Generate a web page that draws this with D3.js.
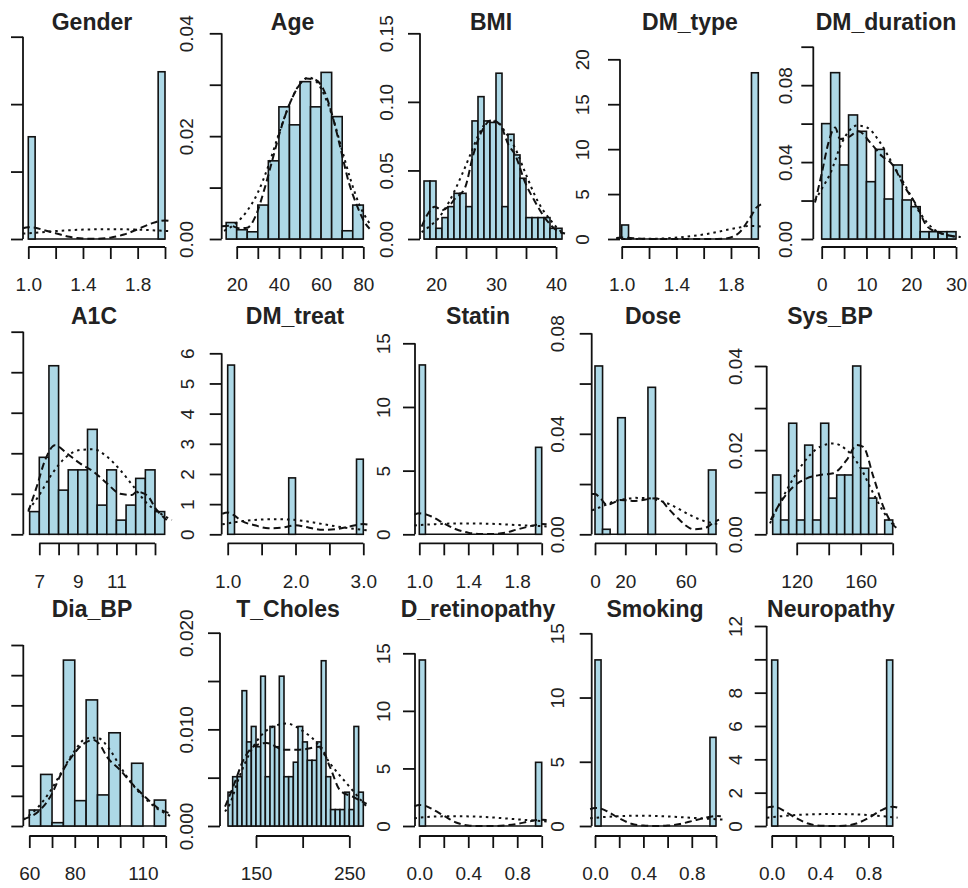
<!DOCTYPE html>
<html>
<head>
<meta charset="utf-8">
<script src="https://cdn.jsdelivr.net/npm/d3@7"></script>
<style>
  body { margin: 0; background: #fff; }
  svg text { font-family: "Liberation Sans", Arial, sans-serif; fill: #222; }
  .title { font-weight: bold; font-size: 23px; }
</style>
</head>
<body>
<div id="chart"></div>
<script>
// ---- shared tick values / labels ----
const ticks12 = [1, 1.2, 1.4, 1.6, 1.8, 2];
const labels12 = ['1.0', '', '1.4', '', '1.8', ''];
const ticks01 = [0, 0.2, 0.4, 0.6, 0.8, 1];
const labels01 = ['0.0', '', '0.4', '', '0.8', ''];
const count15Ticks = [0, 5, 10, 15];
const count15Labels = ['0', '5', '10', '15'];
// first-column panels: their y labels fall outside the picture, so none are shown
const hiddenLabels = ['', '', '', '', '', '', ''];

// ---- Gender ----
const genderBreaks = [1.0, 1.05, 1.95, 2.0];
const genderDens = [7.58, 0, 12.4];
const genderKde = [[0.96,0.8],[1.0,0.88],[1.05,0.84],[1.11,0.67],[1.2,0.43],[1.3,0.16],[1.4,0.03],[1.5,0.01],[1.6,0.1],[1.7,0.33],[1.8,0.72],[1.9,1.15],[2.0,1.38],[2.04,1.33]];
const genderNorm = [[0.96,0.4],[1.05,0.46],[1.15,0.55],[1.3,0.65],[1.45,0.71],[1.6,0.73],[1.75,0.71],[1.9,0.65],[2.04,0.58]];

// ---- Age ----
const ageBreaks = [15, 20, 25, 30, 35, 40, 45, 50, 55, 60, 65, 70, 75, 80];
const ageDens = [0.0032, 0.0018, 0.0014, 0.0066, 0.0152, 0.0257, 0.0222, 0.0306, 0.0257, 0.0324, 0.0238, 0.0016, 0.0066];
const ageKde = [[13,0.0025],[17,0.0026],[21,0.0021],[25,0.0022],[29,0.0045],[33,0.0095],[37,0.0155],[41,0.0215],[45,0.0262],[49,0.0295],[53,0.0312],[57,0.031],[61,0.0292],[65,0.0245],[69,0.018],[73,0.0112],[77,0.0065],[81,0.003],[83,0.002]];
const ageNorm = [[14,0.0016],[20,0.0032],[25,0.0055],[30,0.009],[35,0.0142],[40,0.0205],[45,0.0262],[50,0.0302],[54,0.0314],[58,0.0305],[62,0.0275],[66,0.023],[70,0.0172],[74,0.0115],[78,0.0068],[83,0.003]];
const ageXTicks = [20, 30, 40, 50, 60, 70, 80];
const ageXLabels = ['20', '', '40', '', '60', '', '80'];
const ageYTicks = [0, 0.01, 0.02, 0.03, 0.04];
const ageYLabels = ['0.00', '', '0.02', '', '0.04'];

// ---- BMI ----
const bmiBreaks = [18, 19, 20, 21, 22, 23, 24, 25, 26, 27, 28, 29, 30, 31, 32, 33, 34, 35, 36, 37, 38, 39, 40, 41];
const bmiDens = [0.0423, 0.0423, 0.0078, 0.0156, 0.0236, 0.0333, 0.0333, 0.0236, 0.0861, 0.1038, 0.0861, 0.085, 0.1209, 0.0236, 0.0764, 0.0613, 0.0443, 0.0156, 0.0156, 0.0156, 0.0156, 0.0078, 0.0078];
const bmiKde = [[17.6,0.009],[18.6,0.018],[19.8,0.0236],[21,0.021],[22.1,0.0236],[23.2,0.0297],[24.8,0.037],[26.2,0.0613],[27.6,0.0783],[29.3,0.0868],[30.7,0.0832],[32.1,0.0686],[33.2,0.0613],[34.8,0.0418],[36.5,0.0272],[38.2,0.0151],[40.4,0.0055],[41.5,0.004]];
const bmiNorm = [[17.6,0.005],[19,0.0095],[20.4,0.0151],[22.1,0.0265],[24.3,0.0467],[25.7,0.0613],[27.1,0.0759],[28.7,0.0856],[30.1,0.0856],[31.5,0.0783],[33.2,0.0662],[34.8,0.0491],[37,0.0272],[39.3,0.0126],[40.9,0.0053],[41.5,0.004]];
const bmiXTicks = [20, 25, 30, 35, 40];
const bmiXLabels = ['20', '', '30', '', '40'];
const bmiYTicks = [0, 0.05, 0.10, 0.15];
const bmiYLabels = ['0.00', '0.05', '0.10', '0.15'];

// ---- DM_type ----
const dmTypeBreaks = [1.0, 1.05, 1.95, 2.0];
const dmTypeDens = [1.56, 0, 18.5];
const dmTypeKde = [[0.96,0.12],[1.0,0.17],[1.05,0.14],[1.12,0.05],[1.2,0.01],[1.3,0],[1.7,0],[1.76,0.05],[1.82,0.3],[1.87,0.85],[1.91,1.7],[1.95,2.6],[1.98,3.4],[2.02,3.85]];
const dmTypeNorm = [[0.96,0],[1.2,0.02],[1.3,0.06],[1.43,0.19],[1.55,0.4],[1.65,0.63],[1.75,0.95],[1.87,1.3],[1.93,1.45],[2.0,1.42],[2.04,1.38]];
const dmTypeYTicks = [0, 5, 10, 15, 20];
const dmTypeYLabels = ['0', '5', '10', '15', '20'];

// ---- DM_duration ----
const dmDurBreaks = [0, 2, 4, 6, 8, 10, 12, 14, 16, 18, 20, 22, 24, 26, 28, 30];
const dmDurDens = [0.060, 0.0865, 0.0385, 0.0645, 0.056, 0.0298, 0.0466, 0.0208, 0.0385, 0.0203, 0.0168, 0.0038, 0.0038, 0.0038, 0.0038];
const dmDurKde = [[-1.5,0.019],[0,0.034],[1.5,0.05],[3,0.058],[4.1,0.052],[6,0.053],[8.2,0.056],[10.9,0.05],[13.5,0.043],[15.7,0.039],[18.3,0.028],[21.3,0.017],[23.6,0.0064],[26.6,0.003],[31,0.001]];
const dmDurNorm = [[-1.5,0.02],[0,0.026],[1.9,0.034],[4.5,0.05],[7.9,0.059],[10.1,0.058],[13.1,0.05],[16.1,0.038],[19.1,0.026],[22.1,0.013],[25.1,0.005],[28,0.002],[31,0.001]];
const dmDurXTicks = [0, 5, 10, 15, 20, 25, 30];
const dmDurXLabels = ['0', '', '10', '', '20', '', '30'];
const dmDurYTicks = [0, 0.02, 0.04, 0.06, 0.08, 0.10];
const dmDurYLabels = ['0.00', '', '0.04', '', '0.08', ''];

// ---- A1C ----
const a1cBreaks = [6.5, 7, 7.5, 8, 8.5, 9, 9.5, 10, 10.5, 11, 11.5, 12, 12.5, 13, 13.5];
const a1cDens = [0.056, 0.19, 0.416, 0.109, 0.159, 0.159, 0.259, 0.072, 0.159, 0.035, 0.072, 0.138, 0.159, 0.056];
const a1cKde = [[6.43,0.056],[6.87,0.118],[7.3,0.183],[7.81,0.22],[8.42,0.2],[9.11,0.175],[9.8,0.155],[10.5,0.126],[11.19,0.1],[11.8,0.097],[12.05,0.105],[12.57,0.097],[13.09,0.06],[13.61,0.035]];
const a1cNorm = [[6.43,0.06],[6.95,0.093],[7.56,0.142],[8.42,0.192],[9.11,0.208],[9.8,0.21],[10.5,0.192],[11.19,0.159],[11.88,0.118],[12.57,0.077],[13.26,0.052],[13.87,0.035]];
const a1cXTicks = [7, 8, 9, 10, 11, 12, 13];
const a1cXLabels = ['7', '', '9', '', '11', '', ''];
const a1cYTicks = [0, 0.1, 0.2, 0.3, 0.4, 0.5];

// ---- DM_treat ----
const dmTreatBreaks = [1.0, 1.1, 1.9, 2.0, 2.9, 3.0];
const dmTreatDens = [5.61, 0, 1.87, 0, 2.49];
const dmTreatKde = [[0.92,0.68],[1.0,0.72],[1.1,0.62],[1.2,0.45],[1.4,0.3],[1.6,0.2],[1.8,0.22],[2.0,0.3],[2.2,0.22],[2.4,0.15],[2.6,0.17],[2.8,0.26],[3.0,0.34],[3.08,0.32]];
const dmTreatNorm = [[0.92,0.33],[1.1,0.4],[1.3,0.46],[1.5,0.49],[1.7,0.5],[1.9,0.49],[2.1,0.45],[2.3,0.38],[2.5,0.3],[2.7,0.23],[2.9,0.17],[3.08,0.13]];
const dmTreatXTicks = [1, 1.5, 2, 2.5, 3];
const dmTreatXLabels = ['1.0', '', '2.0', '', '3.0'];
const dmTreatYTicks = [0, 1, 2, 3, 4, 5, 6];
const dmTreatYLabels = ['0', '1', '2', '3', '4', '5', '6'];

// ---- Statin ----
const statinBreaks = [1.0, 1.05, 1.95, 2.0];
const statinDens = [13.3, 0, 6.83];
const statinKde = [[0.96,1.55],[1.0,1.65],[1.05,1.58],[1.1,1.4],[1.2,0.86],[1.3,0.4],[1.4,0.13],[1.5,0.02],[1.6,0.02],[1.7,0.12],[1.8,0.38],[1.9,0.62],[2.0,0.8],[2.04,0.78]];
const statinNorm = [[0.96,0.7],[1.1,0.78],[1.3,0.85],[1.5,0.84],[1.7,0.78],[1.85,0.7],[2.0,0.64],[2.04,0.62]];

// ---- Dose ----
const doseBreaks = [0, 5, 10, 15, 20, 35, 40, 75, 80];
const doseDens = [0.067, 0.002, 0, 0.0464, 0, 0.0585, 0, 0.0256];
const doseKde = [[-2,0.016],[0,0.016],[4,0.014],[8,0.0117],[12,0.0125],[16.5,0.0137],[21,0.0135],[25,0.0133],[30,0.0135],[35,0.014],[40,0.0143],[44,0.0135],[47.4,0.011],[52,0.008],[56,0.0057],[60,0.0035],[65,0.002],[70,0.0022],[74,0.0028],[78,0.0045],[82,0.0058]];
const doseNorm = [[-2,0.0095],[5,0.0112],[12,0.013],[20,0.014],[27,0.0145],[35,0.0144],[42,0.0135],[50,0.0118],[58,0.0092],[65,0.007],[72,0.0053],[78,0.0044],[83,0.004]];
const doseXTicks = [0, 20, 40, 60, 80];
const doseXLabels = ['0', '20', '', '60', ''];
const doseYTicks = [0, 0.02, 0.04, 0.06, 0.08];
const doseYLabels = ['0.00', '', '0.04', '', '0.08'];

// ---- Sys_BP ----
const sysBreaks = [105, 110, 115, 120, 125, 130, 135, 140, 145, 150, 155, 160, 165, 170, 175, 180];
const sysDens = [0.0141, 0.0034, 0.0264, 0.0034, 0.0212, 0.0034, 0.0264, 0.0086, 0.0141, 0.0141, 0.04, 0.0157, 0.0086, 0, 0.0034];
const sysKde = [[103.75,0.0034],[109.6,0.0074],[117.9,0.0113],[126.3,0.0133],[134.6,0.0141],[142.9,0.0145],[151.3,0.0177],[157.5,0.0212],[161.6,0.0208],[167.9,0.0137],[174.1,0.0066],[180.4,0.0022],[182.5,0.0015]];
const sysNorm = [[103.3,0.0026],[113.75,0.0105],[124.1,0.0169],[134.6,0.0208],[142.9,0.0216],[151.3,0.02],[159.6,0.016],[167.9,0.0097],[176.25,0.0042],[182.5,0.0018]];
const sysXTicks = [120, 140, 160, 180];
const sysXLabels = ['120', '', '160', ''];
const sysYTicks = [0, 0.01, 0.02, 0.03, 0.04];
const sysYLabels = ['0.00', '', '0.02', '', '0.04'];

// ---- Dia_BP ----
const diaBreaks = [60, 65, 70, 75, 80, 85, 90, 95, 100, 105, 110, 115, 120];
const diaDens = [0.0053, 0.0171, 0.0011, 0.055, 0.0084, 0.0418, 0.0103, 0.0309, 0, 0.0208, 0, 0.0086];
const diaKde = [[57.4,0.0022],[64.7,0.0053],[69.1,0.0095],[74.3,0.0177],[78.7,0.023],[83.8,0.0272],[88.2,0.0285],[91,0.027],[94.1,0.023],[99.9,0.0186],[105,0.0142],[111.6,0.0092],[117.5,0.0055],[121.9,0.0042]];
const diaNorm = [[57.4,0.0021],[63.3,0.0058],[69.1,0.0114],[75,0.019],[80,0.025],[85,0.029],[89.7,0.0293],[95.5,0.0252],[100,0.0197],[105,0.0142],[110.2,0.0097],[116,0.0059],[122.7,0.0031]];
const diaXTicks = [60, 70, 80, 90, 100, 110, 120];
const diaXLabels = ['60', '', '80', '', '', '110', ''];
const diaYTicks = [0, 0.01, 0.02, 0.03, 0.04, 0.05, 0.06];

// ---- T_Choles ----
const tcBreaks = [120, 125, 130, 135, 140, 145, 150, 155, 160, 165, 170, 175, 180, 185, 190, 195, 200, 205, 210, 215, 220, 225, 230, 235, 240, 245, 250, 255, 260, 265];
const tcDens = [0.0035, 0.0051, 0.0051, 0.014, 0.0087, 0.0103, 0.0082, 0.0155, 0.0051, 0.0103, 0.0082, 0.0155, 0.0051, 0.0051, 0.0066, 0.0103, 0.0087, 0.0068, 0.0068, 0.0087, 0.0171, 0.0051, 0.0017, 0.0017, 0.0017, 0.0035, 0.0017, 0.0103, 0.0035];
const tcKde = [[116.8,0.002],[125.7,0.0041],[136.4,0.0068],[147.1,0.0082],[161.5,0.0086],[179.3,0.0079],[197.2,0.0079],[218.6,0.0082],[229.3,0.0061],[240,0.0037],[254.3,0.003],[268.6,0.0023]];
const tcNorm = [[116.8,0.0015],[122.1,0.0023],[131,0.0048],[147.1,0.0082],[161.5,0.0099],[182.9,0.0106],[199,0.0099],[215.1,0.0086],[229.3,0.0065],[247.2,0.0044],[268.6,0.002]];
const tcXTicks = [150, 200, 250];
const tcXLabels = ['150', '', '250'];
const tcYTicks = [0, 0.005, 0.010, 0.015, 0.020];
const tcYLabels = ['0.000', '', '0.010', '', '0.020'];

// ---- D_retinopathy ----
const retBreaks = [0, 0.05, 0.95, 1.0];
const retDens = [14.42, 0, 5.53];
const retKde = [[-0.04,1.7],[0,1.82],[0.05,1.75],[0.1,1.5],[0.2,0.9],[0.3,0.3],[0.4,0.05],[0.5,0],[0.6,0],[0.7,0.05],[0.8,0.18],[0.9,0.4],[1.0,0.55],[1.04,0.52]];
const retNorm = [[-0.04,0.68],[0.05,0.77],[0.15,0.83],[0.3,0.85],[0.45,0.82],[0.6,0.74],[0.75,0.62],[0.9,0.5],[1.04,0.4]];

// ---- Smoking ----
const smokeBreaks = [0, 0.05, 0.95, 1.0];
const smokeDens = [12.93, 0, 6.9];
const smokeKde = [[-0.04,1.3],[0,1.4],[0.05,1.35],[0.1,1.15],[0.2,0.6],[0.3,0.18],[0.4,0.03],[0.5,0],[0.6,0.03],[0.7,0.15],[0.8,0.38],[0.9,0.62],[1.0,0.78],[1.04,0.76]];
const smokeNorm = [[-0.04,0.6],[0.05,0.68],[0.2,0.76],[0.35,0.8],[0.5,0.78],[0.65,0.72],[0.8,0.64],[0.95,0.56],[1.06,0.5]];

// ---- Neuropathy ----
const neuroBreaks = [0, 0.05, 0.95, 1.0];
const neuroDens = [9.96, 0, 9.96];
const neuroKde = [[-0.04,1.1],[0,1.16],[0.05,1.1],[0.1,0.92],[0.2,0.48],[0.3,0.15],[0.4,0.02],[0.5,0],[0.6,0.02],[0.7,0.15],[0.8,0.48],[0.9,0.92],[1.0,1.16],[1.04,1.1]];
const neuroNorm = [[-0.04,0.5],[0.1,0.6],[0.25,0.68],[0.5,0.72],[0.75,0.68],[0.9,0.6],[1.04,0.5]];
const neuroYTicks = [0, 2, 4, 6, 8, 10, 12];
const neuroYLabels = ['0', '2', '4', '6', '8', '', '12'];

// ---- layout ----
const rowY0 = [239, 534.3, 826],
      rowAxisY = [247, 543.3, 836],
      rowTitleY = [30, 324, 617];

const panels = [
  { title: 'Gender', row: 0, ax: 23, xRef: [1, 28.3, 2, 165], yRef: [15, 36.7], tx: 92, off: 34,
    breaks: genderBreaks, dens: genderDens, kde: genderKde, norm: genderNorm,
    xTicks: ticks12, xLabels: labels12, yTicks: count15Ticks, yLabels: hiddenLabels },
  { title: 'Age', row: 0, ax: 221.7, xRef: [20, 236.7, 80, 363.3], yRef: [0.04, 33.3], tx: 292.5, off: 36,
    breaks: ageBreaks, dens: ageDens, kde: ageKde, norm: ageNorm,
    xTicks: ageXTicks, xLabels: ageXLabels, yTicks: ageYTicks, yLabels: ageYLabels },
  { title: 'BMI', row: 0, ax: 420, xRef: [20, 436, 40, 556], yRef: [0.15, 33.3], tx: 491, off: 34,
    breaks: bmiBreaks, dens: bmiDens, kde: bmiKde, norm: bmiNorm,
    xTicks: bmiXTicks, xLabels: bmiXLabels, yTicks: bmiYTicks, yLabels: bmiYLabels },
  { title: 'DM_type', row: 0, ax: 620, xRef: [1, 621.7, 2, 758.3], yRef: [20, 59.3], tx: 690, off: 38,
    breaks: dmTypeBreaks, dens: dmTypeDens, kde: dmTypeKde, norm: dmTypeNorm,
    xTicks: ticks12, xLabels: labels12, yTicks: dmTypeYTicks, yLabels: dmTypeYLabels },
  { title: 'DM_duration', row: 0, ax: 813.3, xRef: [0, 821.7, 30, 956], yRef: [0.1, 46.7], tx: 886, off: 28,
    breaks: dmDurBreaks, dens: dmDurDens, kde: dmDurKde, norm: dmDurNorm,
    xTicks: dmDurXTicks, xLabels: dmDurXLabels, yTicks: dmDurYTicks, yLabels: dmDurYLabels },

  { title: 'A1C', row: 1, ax: 23.3, xRef: [7, 39.3, 13, 155], yRef: [0.5, 331.7], tx: 94, off: 34,
    breaks: a1cBreaks, dens: a1cDens, kde: a1cKde, norm: a1cNorm,
    xTicks: a1cXTicks, xLabels: a1cXLabels, yTicks: a1cYTicks, yLabels: hiddenLabels },
  { title: 'DM_treat', row: 1, ax: 221.7, xRef: [1, 227.7, 3, 363.3], yRef: [6, 353.3], tx: 295, off: 35,
    breaks: dmTreatBreaks, dens: dmTreatDens, kde: dmTreatKde, norm: dmTreatNorm,
    xTicks: dmTreatXTicks, xLabels: dmTreatXLabels, yTicks: dmTreatYTicks, yLabels: dmTreatYLabels },
  { title: 'Statin', row: 1, ax: 415, xRef: [1, 419.3, 2, 541.7], yRef: [15, 343.3], tx: 478, off: 32,
    breaks: statinBreaks, dens: statinDens, kde: statinKde, norm: statinNorm,
    xTicks: ticks12, xLabels: labels12, yTicks: count15Ticks, yLabels: count15Labels },
  { title: 'Dose', row: 1, ax: 591.7, xRef: [0, 595, 80, 716], yRef: [0.08, 333.3], tx: 653, off: 35,
    breaks: doseBreaks, dens: doseDens, kde: doseKde, norm: doseNorm,
    xTicks: doseXTicks, xLabels: doseXLabels, yTicks: doseYTicks, yLabels: doseYLabels },
  { title: 'Sys_BP', row: 1, ax: 766.7, xRef: [120, 796.7, 180, 892.7], yRef: [0.04, 366], tx: 830, off: 32,
    breaks: sysBreaks, dens: sysDens, kde: sysKde, norm: sysNorm,
    xTicks: sysXTicks, xLabels: sysXLabels, yTicks: sysYTicks, yLabels: sysYLabels },

  { title: 'Dia_BP', row: 2, ax: 23.3, xRef: [60, 29.3, 120, 165.7], yRef: [0.06, 645], tx: 92, off: 34,
    breaks: diaBreaks, dens: diaDens, kde: diaKde, norm: diaNorm,
    xTicks: diaXTicks, xLabels: diaXLabels, yTicks: diaYTicks, yLabels: hiddenLabels },
  { title: 'T_Choles', row: 2, ax: 220, xRef: [150, 256, 250, 349.3], yRef: [0.02, 632.7], tx: 288, off: 34,
    breaks: tcBreaks, dens: tcDens, kde: tcKde, norm: tcNorm,
    xTicks: tcXTicks, xLabels: tcXLabels, yTicks: tcYTicks, yLabels: tcYLabels },
  { title: 'D_retinopathy', row: 2, ax: 415, xRef: [0, 419.3, 1, 541.7], yRef: [15, 653.3], tx: 478, off: 32,
    breaks: retBreaks, dens: retDens, kde: retKde, norm: retNorm,
    xTicks: ticks01, xLabels: labels01, yTicks: count15Ticks, yLabels: count15Labels },
  { title: 'Smoking', row: 2, ax: 591.7, xRef: [0, 595, 1, 716], yRef: [15, 633.3], tx: 655, off: 35,
    breaks: smokeBreaks, dens: smokeDens, kde: smokeKde, norm: smokeNorm,
    xTicks: ticks01, xLabels: labels01, yTicks: count15Ticks, yLabels: count15Labels },
  { title: 'Neuropathy', row: 2, ax: 766.7, xRef: [0, 771.7, 1, 892.7], yRef: [12, 626], tx: 831, off: 32,
    breaks: neuroBreaks, dens: neuroDens, kde: neuroKde, norm: neuroNorm,
    xTicks: ticks01, xLabels: labels01, yTicks: neuroYTicks, yLabels: neuroYLabels }
];

const ink = '#111';

const svg = d3.select('#chart').append('svg')
    .attr('width', 968)
    .attr('height', 888);

panels.forEach(p => {
  const y0 = rowY0[p.row];

  const x = d3.scaleLinear()
      .domain([p.xRef[0], p.xRef[2]])
      .range([p.xRef[1], p.xRef[3]]);

  const y = d3.scaleLinear()
      .domain([0, p.yRef[0]])
      .range([y0, p.yRef[1]]);

  const g = svg.append('g');

  // histogram bars (empty bins skipped, baseline drawn below)
  const bins = p.dens.map((d, i) => ({ lo: p.breaks[i], hi: p.breaks[i + 1], d: d }))
      .filter(b => b.d > 0);

  g.append('line')
      .attr('x1', x(p.breaks[0]))
      .attr('x2', x(p.breaks[p.breaks.length - 1]))
      .attr('y1', y(0))
      .attr('y2', y(0))
      .attr('stroke', ink)
      .attr('stroke-width', 1.6);

  g.selectAll('rect')
      .data(bins)
    .enter().append('rect')
      .attr('x', b => x(b.lo))
      .attr('width', b => x(b.hi) - x(b.lo))
      .attr('y', b => y(b.d))
      .attr('height', b => y(0) - y(b.d))
      .attr('fill', '#add8e6')
      .attr('stroke', ink)
      .attr('stroke-width', 1.6);

  // density curves: kernel (dashed) and normal fit (dotted)
  const line = d3.line()
      .x(d => x(d[0]))
      .y(d => y(d[1]))
      .curve(d3.curveMonotoneX);

  g.append('path')
      .attr('d', line(p.kde))
      .attr('fill', 'none')
      .attr('stroke', ink)
      .attr('stroke-width', 2)
      .attr('stroke-dasharray', '7,4');

  g.append('path')
      .attr('d', line(p.norm))
      .attr('fill', 'none')
      .attr('stroke', ink)
      .attr('stroke-width', 2)
      .attr('stroke-dasharray', '2.5,4');

  // y axis
  const yAxis = g.append('g')
      .attr('transform', 'translate(' + p.ax + ',0)')
      .call(d3.axisLeft(y)
        .tickValues(p.yTicks)
        .tickSize(12)
        .tickFormat((d, i) => p.yLabels[i]))
      .attr('font-size', 19)
      .attr('font-family', '"Liberation Sans", Arial, sans-serif')
      .attr('color', ink);

  yAxis.select('.domain').remove();
  yAxis.append('line')
      .attr('y1', y(p.yTicks[0]))
      .attr('y2', y(p.yTicks[p.yTicks.length - 1]))
      .attr('stroke', ink)
      .attr('stroke-width', 1.8);
  yAxis.selectAll('.tick line').attr('stroke-width', 1.8);
  yAxis.selectAll('.tick text')
      .attr('x', 0)
      .attr('y', -p.off)
      .attr('dy', '0.36em')
      .attr('text-anchor', 'middle')
      .attr('transform', 'rotate(-90)');

  // x axis
  const xAxis = g.append('g')
      .attr('transform', 'translate(0,' + rowAxisY[p.row] + ')')
      .call(d3.axisBottom(x)
        .tickValues(p.xTicks)
        .tickSize(12)
        .tickPadding(19)
        .tickFormat((d, i) => p.xLabels[i]))
      .attr('font-size', 19)
      .attr('font-family', '"Liberation Sans", Arial, sans-serif')
      .attr('color', ink);

  xAxis.select('.domain').remove();
  xAxis.append('line')
      .attr('x1', x(p.xTicks[0]))
      .attr('x2', x(p.xTicks[p.xTicks.length - 1]))
      .attr('stroke', ink)
      .attr('stroke-width', 1.8);
  xAxis.selectAll('.tick line').attr('stroke-width', 1.8);

  // panel title
  g.append('text')
      .attr('class', 'title')
      .attr('x', p.tx)
      .attr('y', rowTitleY[p.row])
      .attr('text-anchor', 'middle')
      .text(p.title);
});
</script>
</body>
</html>
